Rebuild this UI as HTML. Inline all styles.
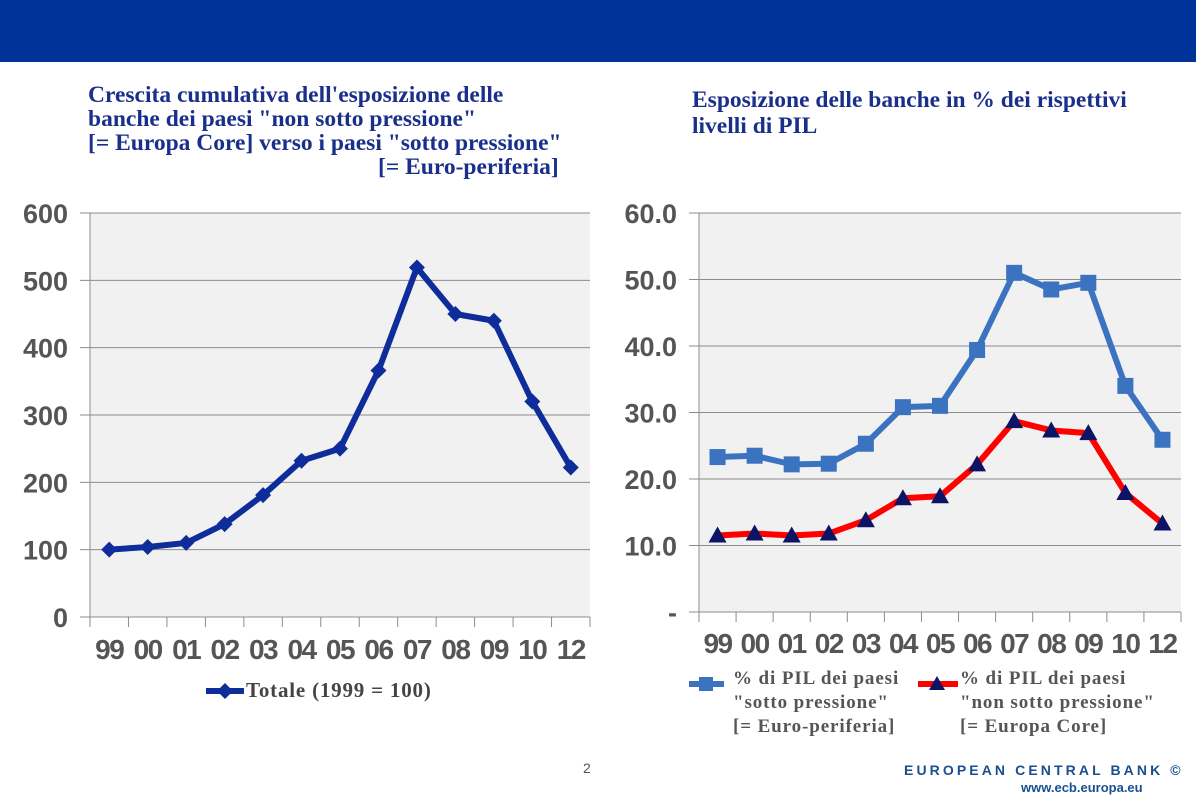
<!DOCTYPE html>
<html><head><meta charset="utf-8">
<style>
body{margin:0;width:1196px;height:805px;background:#fff;overflow:hidden;position:relative;font-family:"Liberation Sans",sans-serif}
.hdr{position:absolute;left:0;top:0;width:1196px;height:62px;background:#003399}
.title{position:absolute;font-family:"Liberation Serif",serif;font-weight:bold;color:#1a2f8a;font-size:23.5px;line-height:24px;white-space:pre}
</style></head><body>
<div class="hdr"></div>
<div class="title" style="left:88px;top:83px">Crescita cumulativa dell'esposizione delle
banche dei paesi "non sotto pressione"
[= Europa Core] verso i paesi "sotto pressione"</div>
<div class="title" style="left:378px;top:155px">[= Euro-periferia]</div>
<div class="title" style="left:692px;top:87px;line-height:26px">Esposizione delle banche in % dei rispettivi
livelli di PIL</div>
<svg id="c" width="1196" height="805" style="position:absolute;left:0;top:0"></svg>
<div style="position:absolute;left:583px;top:760px;font-size:14px;color:#555">2</div>
<div style="position:absolute;left:904px;top:762px;font-size:14px;font-weight:bold;letter-spacing:3.1px;color:#1a4f8f;white-space:nowrap">EUROPEAN CENTRAL BANK ©</div>
<div style="position:absolute;left:1021px;top:780px;font-size:13px;font-weight:bold;color:#1a4f8f;white-space:nowrap">www.ecb.europa.eu</div>
<script>
const categories=["99","00","01","02","03","04","05","06","07","08","09","10","12"];
const totale=[100,104,110,138,181,232,250,366,519,450,440,320,222];
const leftTicks=[0,100,200,300,400,500,600];
const periferia=[23.3,23.5,22.2,22.3,25.3,30.8,31.0,39.4,51.0,48.5,49.5,34.0,25.9];
const core=[11.5,11.8,11.5,11.8,13.8,17.1,17.4,22.2,28.7,27.3,26.9,17.9,13.3];
const rightTicks=[0,10,20,30,40,50,60];
const rightTickLabels=["-","10.0","20.0","30.0","40.0","50.0","60.0"];
const NS="http://www.w3.org/2000/svg";
const svg=document.getElementById('c');
function mk(t,a,p){const e=document.createElementNS(NS,t);for(const k in a)e.setAttribute(k,a[k]);(p||svg).appendChild(e);return e;}
function chart(o){
 const n=categories.length,bw=(o.x1-o.x0)/n;
 const X=i=>o.x0+bw*(i+0.5);
 const Y=v=>o.y1-(v-o.min)/(o.max-o.min)*(o.y1-o.y0);
 const bg=mk('rect',{x:o.x0,y:o.y0,width:o.x1-o.x0,height:o.y1-o.y0,fill:'#f1f1f1'});
 
 
 o.ticks.forEach((t,i)=>{
  const l=mk('line',{x1:o.x0-10,x2:o.x1,y1:Y(t),y2:Y(t),stroke:'#8c8c8c','stroke-width':1});
  
  
  const tx=mk('text',{x:o.x0-22,y:Y(t)+10,'text-anchor':'end','font-size':27,'font-weight':'bold',fill:'#555','font-family':'Liberation Sans,sans-serif'});
  tx.textContent=o.labels[i];
  
  
 });
 mk('line',{x1:o.x0,x2:o.x0,y1:o.y0,y2:o.y1+10,stroke:'#8c8c8c'});
 for(let i=0;i<=n;i++)mk('line',{x1:o.x0+bw*i,x2:o.x0+bw*i,y1:o.y1,y2:o.y1+10,stroke:'#8c8c8c'});
 categories.forEach((c,i)=>{
  const tx=mk('text',{x:X(i),y:o.y1+o.lblOff,'text-anchor':'middle','font-size':28,'font-weight':'bold',fill:'#555','font-family':'Liberation Sans,sans-serif','letter-spacing':'-1.5'});
  tx.textContent=c;
  
  
 });
 o.series.forEach(s=>{
  const p=mk('polyline',{points:s.data.map((v,i)=>X(i)+','+Y(v)).join(' '),fill:'none',stroke:s.color,'stroke-width':6,'stroke-linejoin':'round'});
  
  
  s.data.forEach((v,i)=>{
   const x=X(i),y=Y(v);let m;
   if(s.marker==='diamond')m=mk('polygon',{points:`${x},${y-8} ${x+8},${y} ${x},${y+8} ${x-8},${y}`,fill:s.mcolor});
   else if(s.marker==='square')m=mk('rect',{x:x-8,y:y-8,width:16,height:16,fill:s.mcolor});
   else m=mk('polygon',{points:`${x},${y-9} ${x+9},${y+7} ${x-9},${y+7}`,fill:s.mcolor});
   
   
  });
 });
}
chart({id:'left',x0:90,x1:590,y0:213,y1:617,min:0,max:600,ticks:leftTicks,labels:leftTicks.map(String),lblOff:42,
 series:[{name:'totale',data:totale,color:'#0f2d9a',mcolor:'#0f2d9a',marker:'diamond'}]});
chart({id:'right',x0:699,x1:1181,y0:213,y1:612,min:0,max:60,ticks:rightTicks,labels:rightTickLabels,lblOff:41,
 series:[{name:'periferia',data:periferia,color:'#3b73c0',mcolor:'#3b73c0',marker:'square'},
         {name:'core',data:core,color:'#ff0000',mcolor:'#0d1466',marker:'tri'}]});
function legText(x,y,lines,fill,size,name,ls){
 lines.forEach((l,i)=>{const t=mk('text',{x:x,y:y+i*24,'font-size':size,'font-weight':'bold',fill:fill,'font-family':'Liberation Serif,serif','letter-spacing':ls});t.textContent=l;
 
 });
}
mk('line',{x1:206,x2:244,y1:691,y2:691,stroke:'#0f2d9a','stroke-width':6});
mk('polygon',{points:'225,683 233,691 225,699 217,691',fill:'#0f2d9a'});
legText(246,697,["Totale  (1999 = 100)"],'#444',21,'legend-totale','0.8');
mk('line',{x1:689,x2:724,y1:684,y2:684,stroke:'#3b73c0','stroke-width':6});
mk('rect',{x:699,y:677,width:14,height:14,fill:'#3b73c0'});
legText(733,684,['% di PIL dei paesi','"sotto pressione"','[= Euro-periferia]'],'#555',19,'legend-periferia','0.9');
mk('line',{x1:918,x2:958,y1:684,y2:684,stroke:'#ff0000','stroke-width':6});
mk('polygon',{points:'937,676 945,690 929,690',fill:'#0d1466'});
legText(960,684,['% di PIL dei paesi','"non sotto pressione"','[= Europa Core]'],'#555',19,'legend-core','0.9');
</script>
</body></html>
